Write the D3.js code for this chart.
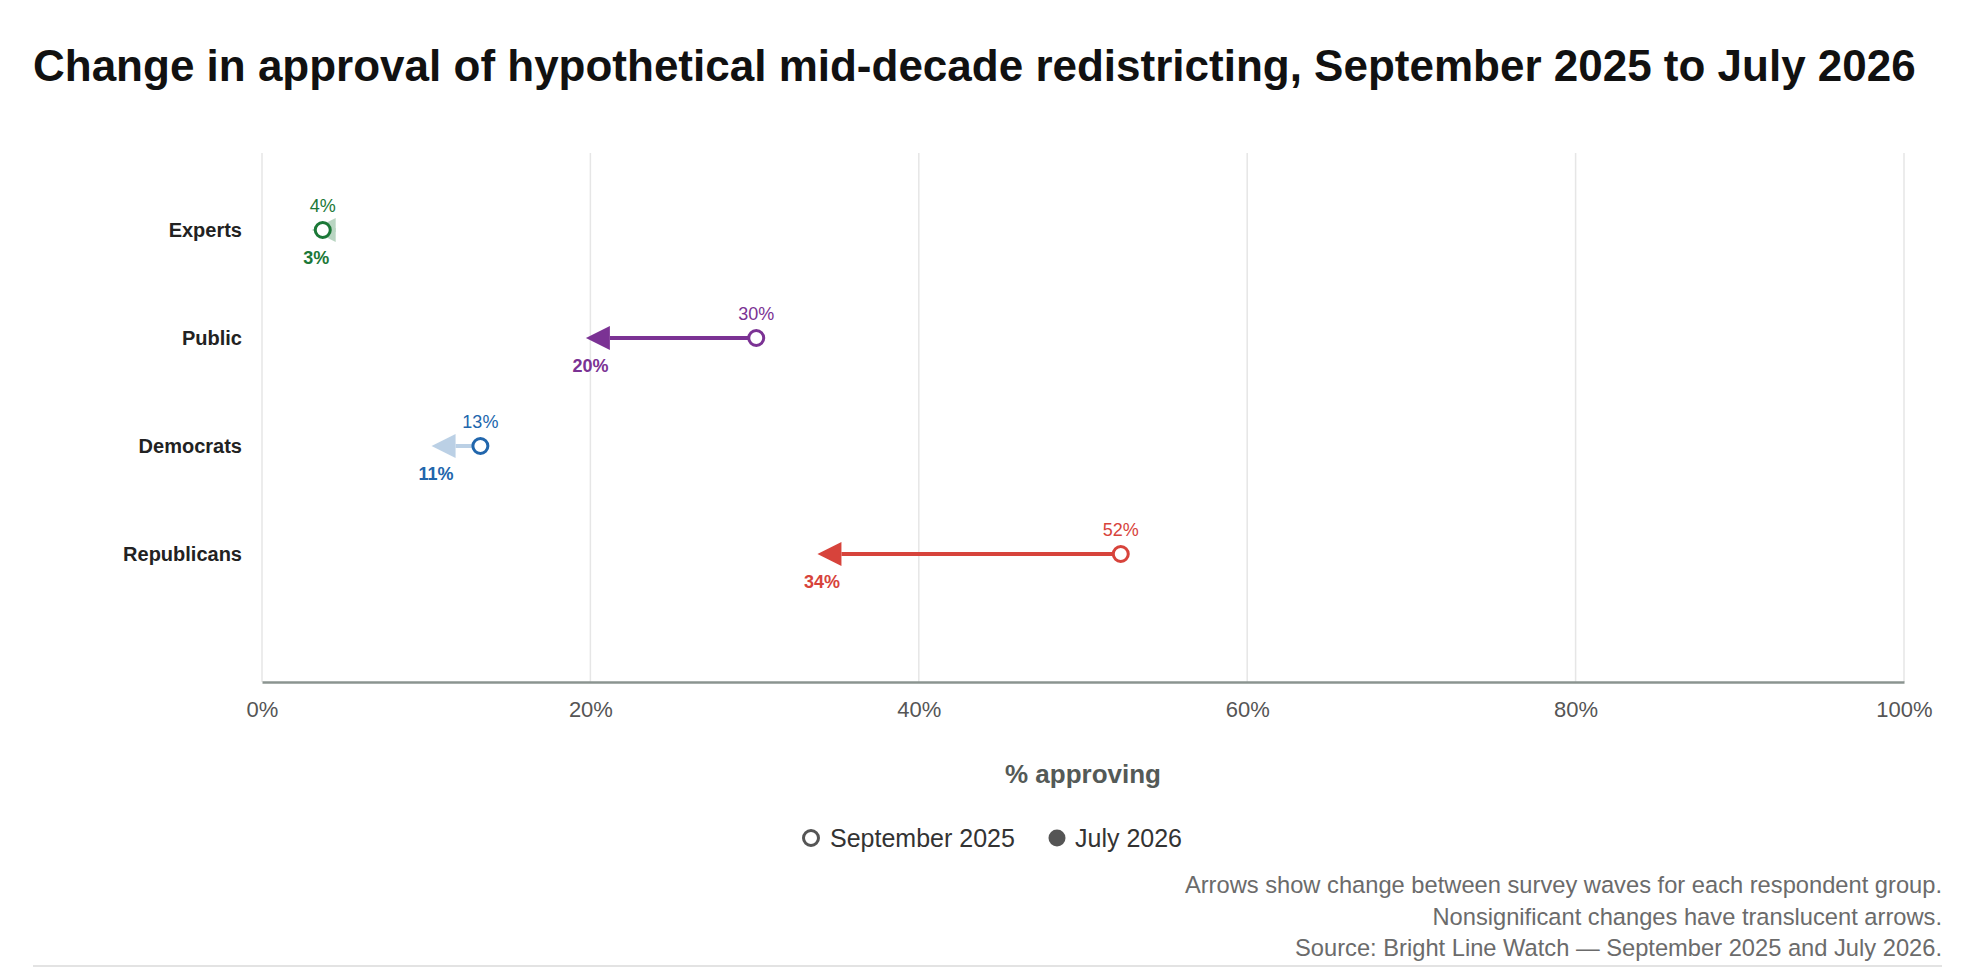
<!DOCTYPE html>
<html>
<head>
<meta charset="utf-8">
<script src="https://cdn.jsdelivr.net/npm/d3@7"></script>
<style>
  body { margin: 0; background: #fff; font-family: "Liberation Sans", Arial, Helvetica, sans-serif; }
</style>
</head>
<body>
<div id="chartHolder"></div>
<script>
// data
const groups = ["Experts", "Public", "Democrats", "Republicans"];
const sep2025 = [3.7, 30.1, 13.3, 52.3];
const jul2026 = [3.3, 20.0, 10.6, 34.1];
const significant = [false, true, false, true];
const groupColors = ["#1b7837", "#7b3294", "#2166ac", "#d7433b"];
const xTicks = [0, 20, 40, 60, 80, 100];
const notes = [
  "Arrows show change between survey waves for each respondent group.",
  "Nonsignificant changes have translucent arrows.",
  "Source: Bright Line Watch \u2014 September 2025 and July 2026."
];

function GetChart(){
  const width = 1966;
  const height = 968;
  const plotLeft = 262, plotRight = 1904, plotTop = 153, plotBottom = 682;

  const svg = d3.select("#chartHolder")
    .append("svg")
    .attr("width", width)
    .attr("height", height)
    .style("font-family", "'Liberation Sans', Arial, Helvetica, sans-serif");

  // title
  svg.append("text")
    .attr("x", 33)
    .attr("y", 81)
    .style("font-size", "44px")
    .style("font-weight", "bold")
    .style("fill", "#111")
    .text("Change in approval of hypothetical mid-decade redistricting, September 2025 to July 2026");

  const xScale = d3.scaleLinear().domain([0, 100]).range([plotLeft, plotRight]);
  const yScale = d3.scaleBand().domain(groups).range([176, 608]);
  const yMid = g => yScale(g) + yScale.bandwidth() / 2;

  // grid lines
  svg.append("g")
    .selectAll("line")
    .data(xTicks)
    .enter()
    .append("line")
    .attr("x1", d => xScale(d))
    .attr("x2", d => xScale(d))
    .attr("y1", plotTop)
    .attr("y2", plotBottom)
    .style("stroke", "#e6e6e6")
    .style("stroke-width", 1.5);

  // x axis
  const xAxis = d3.axisBottom(xScale)
    .tickValues(xTicks)
    .tickSize(0)
    .tickPadding(19)
    .tickFormat(d => d + "%");
  const gx = svg.append("g")
    .attr("id", "x-axis")
    .attr("transform", `translate(0, ${plotBottom})`)
    .call(xAxis);
  gx.select(".domain").style("stroke", "#8b9490").style("stroke-width", 2.5);
  gx.selectAll("text")
    .style("font-size", "22px")
    .style("fill", "#555")
    .style("font-family", "'Liberation Sans', Arial, sans-serif");

  svg.append("text")
    .attr("x", (plotLeft + plotRight) / 2)
    .attr("y", 783)
    .attr("text-anchor", "middle")
    .style("font-size", "26px")
    .style("font-weight", "bold")
    .style("fill", "#545a57")
    .text("% approving");

  // y axis labels
  const yAxis = d3.axisLeft(d3.scalePoint().domain(groups).range([yMid(groups[0]), yMid(groups[groups.length - 1])]))
    .tickSize(0)
    .tickPadding(0);
  const gy = svg.append("g")
    .attr("transform", "translate(242, 0)")
    .call(yAxis);
  gy.select(".domain").remove();
  gy.selectAll("text")
    .style("font-size", "20px")
    .style("font-weight", "bold")
    .style("fill", "#222")
    .style("font-family", "'Liberation Sans', Arial, sans-serif");

  // arrows
  const headLen = 24, headHalf = 12, overshoot = 4.5;
  const rows = groups.map((g, i) => ({
    group: g, sep: sep2025[i], jul: jul2026[i], sig: significant[i], color: groupColors[i]
  }));

  const arrows = svg.append("g")
    .selectAll("g")
    .data(rows)
    .enter()
    .append("g")
    .style("opacity", d => d.sig ? 1 : 0.3);

  arrows.each(function(d){
    const dir = d.jul < d.sep ? -1 : 1;
    const y = yMid(d.group);
    const tip = xScale(d.jul) + dir * overshoot;
    const base = tip - dir * headLen;
    const g = d3.select(this);
    g.append("line")
      .attr("x1", xScale(d.sep))
      .attr("x2", base)
      .attr("y1", y)
      .attr("y2", y)
      .style("stroke", d.color)
      .style("stroke-width", 4);
    g.append("path")
      .attr("d", `M${tip},${y} L${base},${y - headHalf} L${base},${y + headHalf} Z`)
      .style("fill", d.color);
  });

  // september circles
  svg.append("g")
    .selectAll("circle")
    .data(rows)
    .enter()
    .append("circle")
    .attr("cx", d => xScale(d.sep))
    .attr("cy", d => yMid(d.group))
    .attr("r", 7.5)
    .style("fill", "#fff")
    .style("stroke", d => d.color)
    .style("stroke-width", 3);

  // value labels
  svg.append("g")
    .selectAll("text")
    .data(rows)
    .enter()
    .append("text")
    .attr("x", d => xScale(d.sep))
    .attr("y", d => yMid(d.group) - 18)
    .attr("text-anchor", "middle")
    .style("font-size", "18px")
    .style("fill", d => d.color)
    .text(d => Math.round(d.sep) + "%");

  svg.append("g")
    .selectAll("text")
    .data(rows)
    .enter()
    .append("text")
    .attr("x", d => xScale(d.jul))
    .attr("y", d => yMid(d.group) + 34)
    .attr("text-anchor", "middle")
    .style("font-size", "18px")
    .style("font-weight", "bold")
    .style("fill", d => d.color)
    .text(d => Math.round(d.jul) + "%");

  // legend
  const legend = svg.append("g");
  legend.append("circle")
    .attr("cx", 811).attr("cy", 838).attr("r", 7.5)
    .style("fill", "#fff").style("stroke", "#555").style("stroke-width", 3);
  legend.append("text")
    .attr("x", 830).attr("y", 847)
    .style("font-size", "25px").style("fill", "#333")
    .text("September 2025");
  legend.append("circle")
    .attr("cx", 1057).attr("cy", 838).attr("r", 8.5)
    .style("fill", "#555");
  legend.append("text")
    .attr("x", 1075).attr("y", 847)
    .style("font-size", "25px").style("fill", "#333")
    .text("July 2026");

  // notes
  svg.append("g")
    .selectAll("text")
    .data(notes)
    .enter()
    .append("text")
    .attr("x", 1942)
    .attr("y", (d, i) => 893 + i * 31.5)
    .attr("text-anchor", "end")
    .style("font-size", "23.7px")
    .style("fill", "#6b6b6b")
    .text(d => d);

  svg.append("line")
    .attr("x1", 33).attr("x2", 1942)
    .attr("y1", 966).attr("y2", 966)
    .style("stroke", "#e3e3e3")
    .style("stroke-width", 2);
}
GetChart();
</script>
</body>
</html>
